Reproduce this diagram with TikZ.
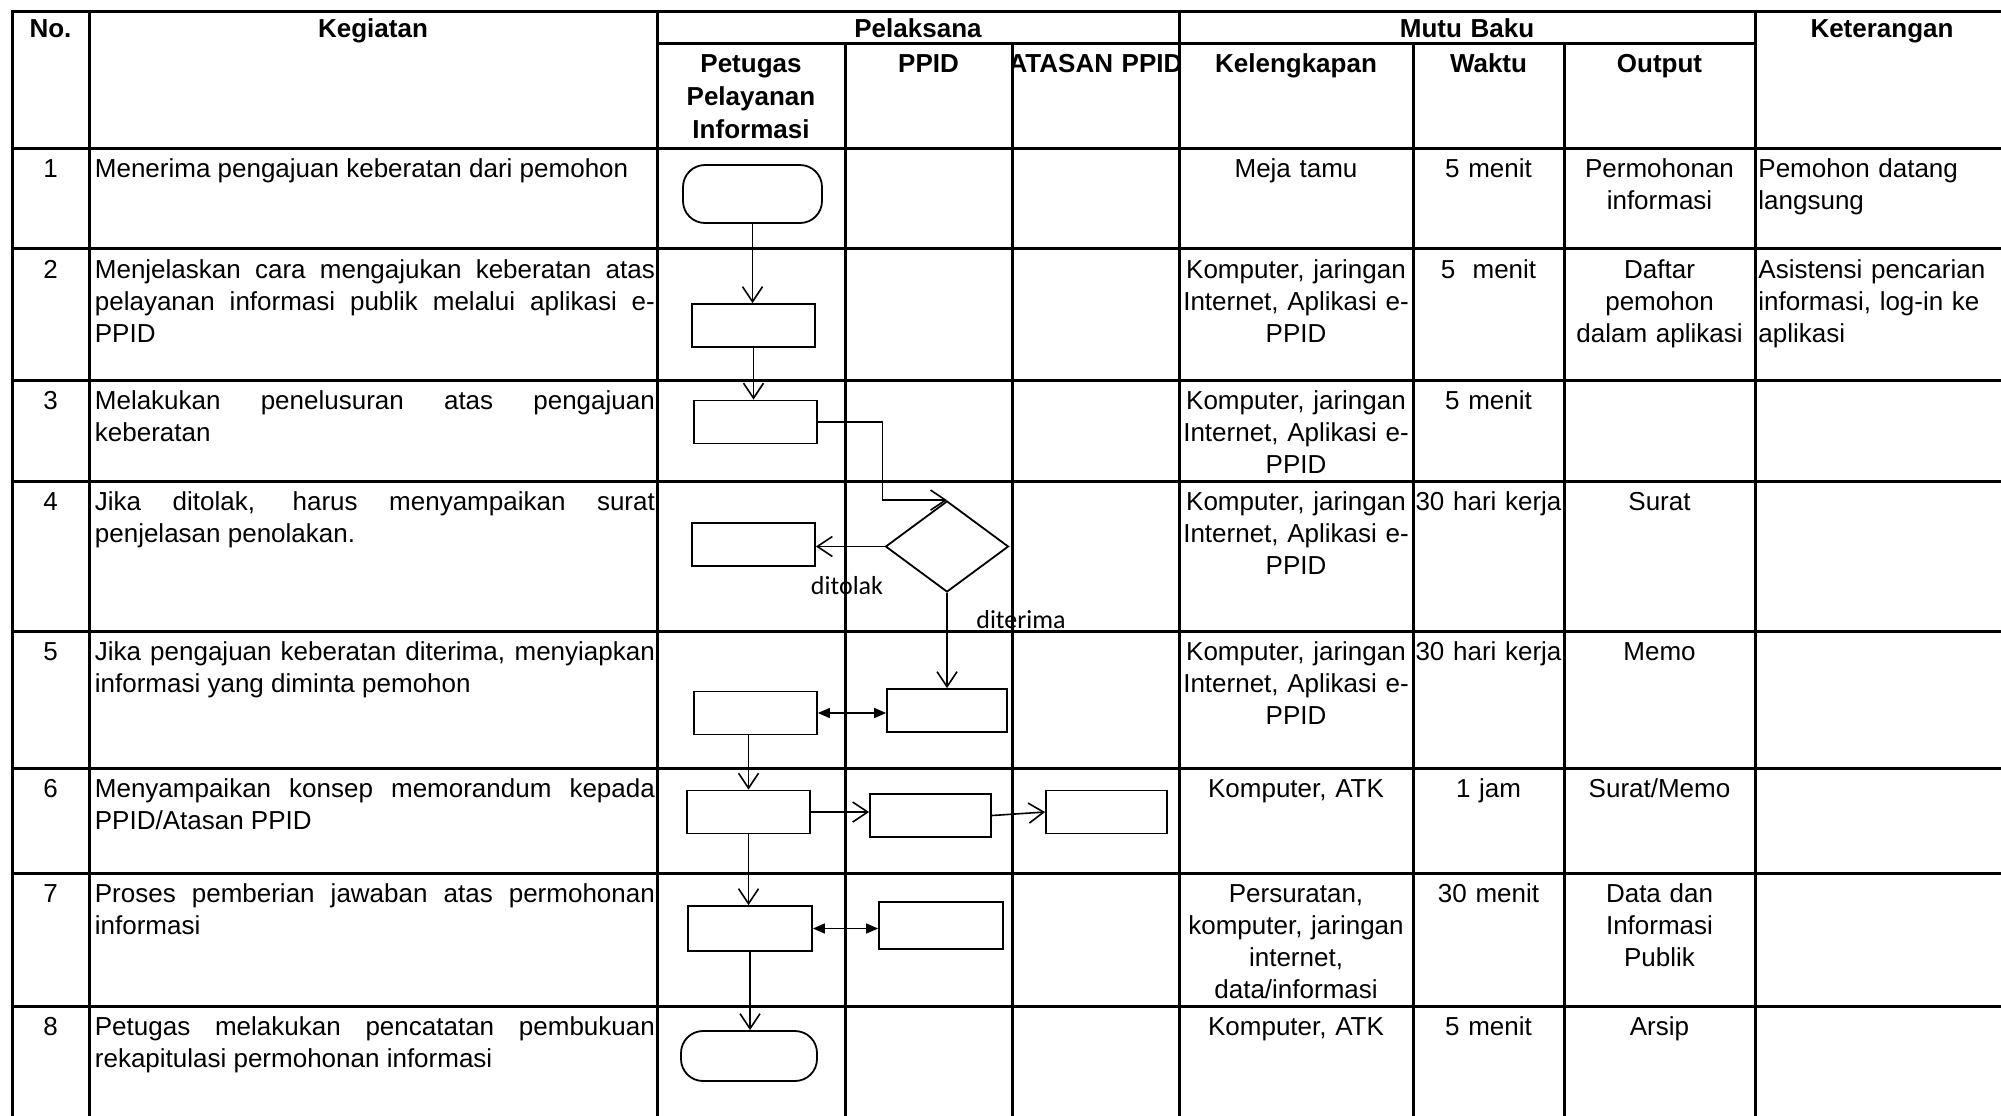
\documentclass[tikz,border=0pt]{standalone}
\usepackage{fontspec}
\setmainfont{Liberation Sans}
\newfontfamily\flowfont{Carlito}
\usetikzlibrary{arrows.meta, calc, shapes.geometric}
\newcommand\cellfont{\fontsize{13}{16}\selectfont}
\newcommand\headfont{\fontsize{13}{16.5}\selectfont\bfseries}
\hyphenpenalty=10000
\tolerance=10000
\hbadness=10000
\tikzset{
    grid/.style = {line width=1.5pt},
    cell/.style = {anchor=north, inner sep=0pt, align=center, font=\cellfont,
        text width=#1, execute at begin node=\strut},
    cell/.default = 120pt,
    head/.style = {cell, font=\headfont},
    kegiatan/.style = {cell=280pt, anchor=north west, align=justify},
    ket/.style = {cell=125pt, anchor=north west, align=left},
    proc/.style = {draw, line width=0.9pt, minimum width=61.5pt, minimum height=21.5pt, inner sep=0pt},
    term/.style = {proc, rounded corners=11pt},
    decision/.style = {draw, diamond, line width=0.9pt, inner sep=0pt,
        minimum width=61.5pt, minimum height=45.5pt},
    flow/.style = {line width=0.8pt, -{Straight Barb[length=7.5pt,width=10pt]}},
    twoway/.style = {line width=0.8pt, {Triangle[length=6pt,width=5pt]}-{Triangle[length=6pt,width=5pt]}},
    branch/.style = {font=\flowfont\fontsize{13}{16}\selectfont, inner sep=0pt},
}
\begin{document}
\begin{tikzpicture}[x=0.5pt, y=-0.5pt]
\useasboundingbox (0,0) rectangle (2001,1115);
\fill[white] (0,0) rectangle (2001,1115);
\clip (0,0) rectangle (2001,1115);

\draw[grid] (12,11.5) rectangle (2009,1140);
\foreach \x in {89,657,1179,1755} \draw[grid] (\x,11.5) -- (\x,1140);
\foreach \x in {845,1012,1413,1564} \draw[grid] (\x,43.5) -- (\x,1140);
\draw[grid] (657,43.5) -- (1755,43.5);
\foreach \y in {148,248.5,380,481.5,631.5,768,873.5,1006.5} \draw[grid] (12,\y) -- (2009,\y);

\node[head] (hno) at (50.5,13.6) {No.};
\node[head] (hkeg) at (373,13.6) {Kegiatan};
\node[head] (hpel) at (918,13.6) {Pelaksana};
\node[head] (hmutu) at (1467,13.6) {Mutu Baku};
\node[head] (hket) at (1882,13.6) {Keterangan};
\node[head] (hpetugas) at (751,49.2) {Petugas\\Pelayanan\\Informasi};
\node[head] (hppid) at (928.5,49.2) {PPID};
\begin{scope}
\clip (1012,43.5) rectangle (1179,148);
\node[head] (hatasan) at (1095.5,49.2) {ATASAN PPID};
\end{scope}
\node[head] (hleng) at (1296,49.2) {Kelengkapan};
\node[head] (hwaktu) at (1488.5,49.2) {Waktu};
\node[head] (hout) at (1659.5,49.2) {Output};

\node[cell] (no1) at (50.5,154.6) {1};
\node[kegiatan] (keg1) at (94.5,154.6) {Menerima pengajuan keberatan dari pemohon};
\node[cell] (leng1) at (1296,154.6) {Meja tamu};
\node[cell] (waktu1) at (1488.5,154.6) {5 menit};
\node[cell] (out1) at (1659.5,154.6) {Permohonan\\informasi};
\node[ket] (ket1) at (1758,154.6) {Pemohon datang\\langsung};

\node[cell] (no2) at (50.5,255.6) {2};
\node[kegiatan] (keg2) at (94.5,255.6) {Menjelaskan cara mengajukan keberatan atas\linebreak pelayanan informasi publik melalui aplikasi e-\linebreak PPID};
\node[cell] (leng2) at (1296,255.6) {Komputer, jaringan\\Internet, Aplikasi e-\\PPID};
\node[cell] (waktu2) at (1488.5,255.6) {5\ \ menit};
\node[cell] (out2) at (1659.5,255.6) {Daftar\\pemohon\\dalam aplikasi};
\node[ket] (ket2) at (1758,255.6) {Asistensi pencarian\\informasi, log-in ke\\aplikasi};

\node[cell] (no3) at (50.5,386.6) {3};
\node[kegiatan] (keg3) at (94.5,386.6) {Melakukan penelusuran atas pengajuan\linebreak keberatan};
\node[cell] (leng3) at (1296,386.6) {Komputer, jaringan\\Internet, Aplikasi e-\\PPID};
\node[cell] (waktu3) at (1488.5,386.6) {5 menit};

\node[cell] (no4) at (50.5,488.1) {4};
\node[kegiatan] (keg4) at (94.5,488.1) {Jika ditolak, harus menyampaikan surat\linebreak penjelasan penolakan.};
\node[cell] (leng4) at (1296,488.1) {Komputer, jaringan\\Internet, Aplikasi e-\\PPID};
\node[cell] (waktu4) at (1488.5,488.1) {30 hari kerja};
\node[cell] (out4) at (1659.5,488.1) {Surat};

\node[cell] (no5) at (50.5,637.6) {5};
\node[kegiatan] (keg5) at (94.5,637.6) {Jika pengajuan keberatan diterima, menyiapkan\linebreak informasi yang diminta pemohon};
\node[cell] (leng5) at (1296,637.6) {Komputer, jaringan\\Internet, Aplikasi e-\\PPID};
\node[cell] (waktu5) at (1488.5,637.6) {30 hari kerja};
\node[cell] (out5) at (1659.5,637.6) {Memo};

\node[cell] (no6) at (50.5,774.6) {6};
\node[kegiatan] (keg6) at (94.5,774.6) {Menyampaikan konsep memorandum kepada\linebreak PPID/Atasan PPID};
\node[cell] (leng6) at (1296,774.6) {Komputer, ATK};
\node[cell] (waktu6) at (1488.5,774.6) {1 jam};
\node[cell] (out6) at (1659.5,774.6) {Surat/Memo};

\node[cell] (no7) at (50.5,880.1) {7};
\node[kegiatan] (keg7) at (94.5,880.1) {Proses pemberian jawaban atas permohonan\linebreak informasi};
\node[cell] (leng7) at (1296,880.1) {Persuratan,\\komputer, jaringan\\internet,\\data/informasi};
\node[cell] (waktu7) at (1488.5,880.1) {30 menit};
\node[cell] (out7) at (1659.5,880.1) {Data dan\\Informasi\\Publik};

\node[cell] (no8) at (50.5,1013.1) {8};
\node[kegiatan] (keg8) at (94.5,1013.1) {Petugas melakukan pencatatan pembukuan\linebreak rekapitulasi permohonan informasi};
\node[cell] (leng8) at (1296,1013.1) {Komputer, ATK};
\node[cell] (waktu8) at (1488.5,1013.1) {5 menit};
\node[cell] (out8) at (1659.5,1013.1) {Arsip};

\node[term, minimum width=69.5pt, minimum height=29pt] (start) at (752.5,194) {};
\node[proc] (jelas) at (753.5,325.5) {};
\node[proc] (telusur) at (755.5,422) {};
\node[decision] (cek) at (947,546.5) {};
\node[proc] (tolak) at (753.5,544.5) {};
\node[proc] (siap) at (755.5,713) {};
\node[proc, minimum width=60pt] (siapppid) at (947,710.5) {};
\node[proc] (konsep) at (748.5,812) {};
\node[proc, minimum width=60.5pt] (konsepppid) at (930.5,815.5) {};
\node[proc, minimum width=60.5pt] (konsepatasan) at (1106.5,812) {};
\node[proc, minimum width=62pt, minimum height=22.5pt] (jawab) at (750,928.5) {};
\node[proc, minimum width=62pt, minimum height=23.5pt] (jawabppid) at (941,925.5) {};
\node[term, minimum width=68pt, minimum height=25pt] (selesai) at (749,1056) {};

\draw[flow] (start.south) -- (start.south |- jelas.north);
\draw[flow] (jelas.south) -- (jelas.south |- telusur.north);
\coordinate (belok) at ($(telusur.east)!.5!(cek.north)$);
\draw[flow] (telusur.east) -| (belok) |- (cek.north);
\draw[flow] (cek.west) -- (cek.west -| tolak.east);
\node[branch] (ditolak) at (847,586) {ditolak};
\draw[flow] (cek.south) -- (cek.south |- siapppid.north);
\node[branch] (diterima) at (1021,620) {diterima};
\draw[twoway] (siap.east) -- (siap.east -| siapppid.west);
\draw[flow] (konsep.north |- siap.south) -- (konsep.north);
\draw[flow] (konsep.east) -- (konsep.east -| konsepppid.west);
\draw[flow] (konsepppid.east) -- (konsepatasan.west);
\draw[flow] (konsep.south) -- (konsep.south |- jawab.north);
\draw[twoway] (jawab.east) -- (jawab.east -| jawabppid.west);
\draw[flow] (jawab.south) -- (jawab.south |- selesai.north);
\end{tikzpicture}
\end{document}
